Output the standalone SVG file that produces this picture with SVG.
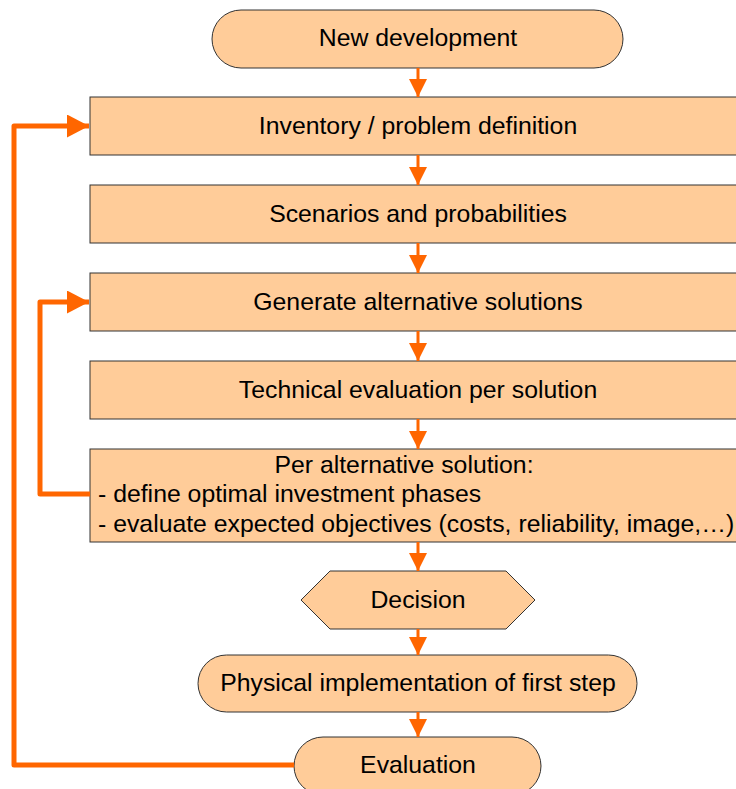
<svg xmlns="http://www.w3.org/2000/svg" width="736" height="789" viewBox="0 0 736 789">
<style>
.n{fill:#FFCC99;stroke:#333;stroke-width:1}
.t{font-family:"Liberation Sans",Arial,sans-serif;font-size:24.8px;fill:#000}
.c{fill:none;stroke:#FF6600;stroke-width:3}
.l{fill:none;stroke:#FF6600;stroke-width:5;stroke-linejoin:round}
</style>
<defs>
<marker id="ah" markerUnits="userSpaceOnUse" markerWidth="19" markerHeight="19" refX="18" refY="9" orient="auto">
<path d="M0,0 L18,9 L0,18 z" fill="#FF6600"/>
</marker>
<marker id="ahl" markerUnits="userSpaceOnUse" markerWidth="23" markerHeight="24" refX="22" refY="11.5" orient="auto">
<path d="M0,0 L22,11.5 L0,23 z" fill="#FF6600"/>
</marker>
</defs>
<rect width="736" height="789" fill="#fff"/>
<g id="new-development"><rect class="n" x="212" y="10" width="411" height="58" rx="29"/><text class="t" x="418" y="46" text-anchor="middle">New development</text></g>
<g id="inventory"><rect class="n" x="90" y="97" width="656" height="58"/><text class="t" x="418" y="134" text-anchor="middle">Inventory / problem definition</text></g>
<g id="scenarios"><rect class="n" x="90" y="185" width="656" height="58"/><text class="t" x="418" y="222" text-anchor="middle">Scenarios and probabilities</text></g>
<g id="generate"><rect class="n" x="90" y="273" width="656" height="58"/><text class="t" x="418" y="310" text-anchor="middle">Generate alternative solutions</text></g>
<g id="technical"><rect class="n" x="90" y="361" width="656" height="58"/><text class="t" x="418" y="398" text-anchor="middle">Technical evaluation per solution</text></g>
<g id="per-alternative"><rect class="n" x="90" y="449" width="656" height="93"/>
<text class="t" x="404" y="473" text-anchor="middle">Per alternative solution:</text>
<text class="t" x="98" y="502">- define optimal investment phases</text>
<text class="t" x="98" y="532">- evaluate expected objectives (costs, reliability, image,…)</text></g>
<g id="decision"><polygon class="n" points="301,600 330,571 506,571 535,600 506,629 330,629"/><text class="t" x="418" y="608" text-anchor="middle">Decision</text></g>
<g id="physical"><rect class="n" x="198" y="655" width="439" height="57" rx="28.5"/><text class="t" x="418" y="691" text-anchor="middle">Physical implementation of first step</text></g>
<g id="evaluation"><rect class="n" x="294" y="737" width="247" height="58" rx="29"/><text class="t" x="418" y="773" text-anchor="middle">Evaluation</text></g>
<g id="connectors">
<line class="c" x1="418" y1="68" x2="418" y2="97" marker-end="url(#ah)"/>
<line class="c" x1="418" y1="155" x2="418" y2="185" marker-end="url(#ah)"/>
<line class="c" x1="418" y1="243" x2="418" y2="273" marker-end="url(#ah)"/>
<line class="c" x1="418" y1="331" x2="418" y2="361" marker-end="url(#ah)"/>
<line class="c" x1="418" y1="419" x2="418" y2="449" marker-end="url(#ah)"/>
<line class="c" x1="418" y1="542" x2="418" y2="571" marker-end="url(#ah)"/>
<line class="c" x1="418" y1="629" x2="418" y2="655" marker-end="url(#ah)"/>
<line class="c" x1="418" y1="712" x2="418" y2="737" marker-end="url(#ah)"/>
<path class="l" d="M294,765 H14 V126 H89" marker-end="url(#ahl)"/>
<path class="l" d="M90,494 H40 V302 H89" marker-end="url(#ahl)"/>
</g>
</svg>
